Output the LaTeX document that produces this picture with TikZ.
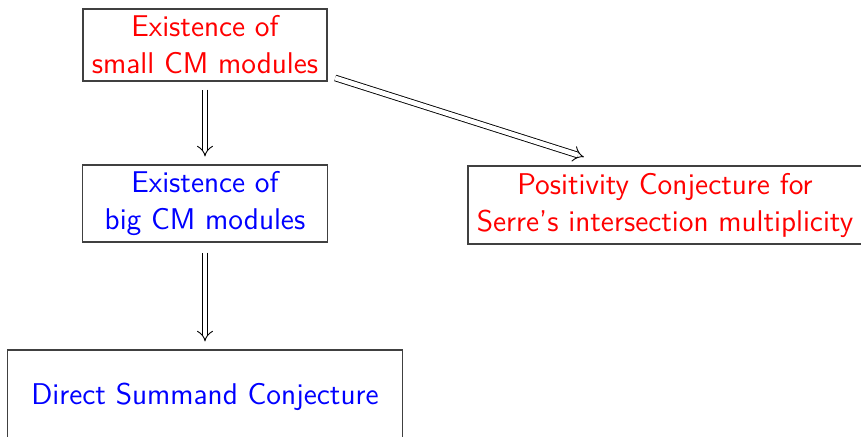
\documentclass[tikz,border=0pt]{standalone}
\usetikzlibrary{arrows.meta}
\begin{document}
\begin{tikzpicture}[x=0.5pt,y=-0.5pt,
  box/.style={draw=black!75, line width=0.55pt, align=center, inner sep=0pt,
    font=\sffamily\fontsize{15}{18.5}\selectfont},
  imp/.style={double, double distance=2.4pt, line width=0.45pt, -{Implies[scale=1.25]}}]
\useasboundingbox (0,0) rectangle (861,437);
\clip (0,0) rectangle (861,437);
\node[box, text=red, minimum width=122pt, minimum height=36pt] (top) at (205,45) {Existence of\\small CM modules};
\node[box, text=blue, minimum width=122.5pt, minimum height=38.5pt] (mid) at (205,203.5) {Existence of\\big CM modules};
\node[box, text=red, minimum width=197pt, minimum height=39pt] (right) at (665,205) {Positivity Conjecture for\\Serre's intersection multiplicity};
\node[box, text=blue, minimum width=197.5pt, minimum height=47pt] (bot) at (205,397) {Direct Summand Conjecture};
\draw[imp, shorten <=4pt, shorten >=4pt] (top) -- (mid);
\draw[imp, shorten <=5pt, shorten >=4pt] (mid) -- (bot);
\draw[imp, shorten <=4pt, shorten >=14pt] (top.-14) -- (right.144);
\end{tikzpicture}
\end{document}
